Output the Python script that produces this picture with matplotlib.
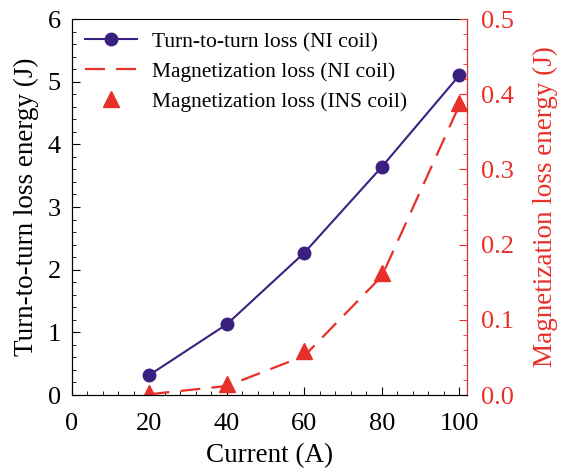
import matplotlib
matplotlib.use("Agg")
import matplotlib.pyplot as plt
from matplotlib.ticker import MultipleLocator

plt.rcParams['font.family'] = ['Liberation Serif', 'DejaVu Serif']
plt.rcParams['mathtext.fontset'] = 'stix'

current = [20, 40, 60, 80, 100]
turn_loss_ni = [0.32, 1.13, 2.27, 3.64, 5.1]
mag_loss_ni = [0.001, 0.012, 0.052, 0.158, 0.385]
mag_loss_ins = [0.003, 0.015, 0.058, 0.162, 0.388]

purple = "#3a2080"
red = "#e8302a"

fig = plt.figure(figsize=(5.61, 4.76), dpi=100)
ax = fig.add_axes([72 / 561, 81 / 476, 395 / 561, 376 / 476])
ax2 = ax.twinx()

l1, = ax.plot(current, turn_loss_ni, color=purple, lw=1.5, marker="o",
              markersize=9, label="Turn-to-turn loss (NI coil)")
l2, = ax2.plot(current, mag_loss_ni, color=red, lw=1.6, ls=(0, (9, 5)),
               label="Magnetization loss (NI coil)")
l3, = ax2.plot(current, mag_loss_ins, color=red, ls="none", marker="^",
               markersize=12, label="Magnetization loss (INS coil)")

ax.set_xlim(0, 102)
ax.set_ylim(0, 6)
ax2.set_ylim(0, 0.5)

ax.xaxis.set_major_locator(MultipleLocator(20))
ax.xaxis.set_minor_locator(MultipleLocator(4))
ax.yaxis.set_major_locator(MultipleLocator(1))
ax.yaxis.set_minor_locator(MultipleLocator(0.2))
ax2.yaxis.set_major_locator(MultipleLocator(0.1))
ax2.yaxis.set_minor_locator(MultipleLocator(0.02))
ax2.yaxis.set_major_formatter(matplotlib.ticker.FormatStrFormatter("%.1f"))

ax.tick_params(which="both", direction="in", labelsize=19, top=False)
ax.tick_params(which="major", length=6)
ax.tick_params(which="minor", length=3)
ax.tick_params(axis="x", which="major", pad=13)
ax.tick_params(axis="y", which="major", pad=8)
ax.tick_params(axis="y", which="both", right=False)
ax2.tick_params(which="both", direction="in", labelsize=19, colors=red)
ax2.tick_params(which="major", length=6, pad=10)
ax2.tick_params(which="minor", length=3)
ax2.spines["right"].set_color(red)
ax2.spines["top"].set_visible(False)

ax.set_xlabel("Current (A)", fontsize=19.5, labelpad=6)
ax.set_ylabel("Turn-to-turn loss energy (J)", fontsize=19.5, labelpad=6)
ax2.set_ylabel("Magnetization loss energy (J)", fontsize=19.5, color=red, labelpad=14)

ax.legend(handles=[l1, l2, l3], loc="upper left", frameon=False, fontsize=15.5,
          handlelength=2.4, handletextpad=0.7, borderaxespad=0.3,
          borderpad=0.3, labelspacing=0.45)

fig.savefig("out.png", dpi=100)
